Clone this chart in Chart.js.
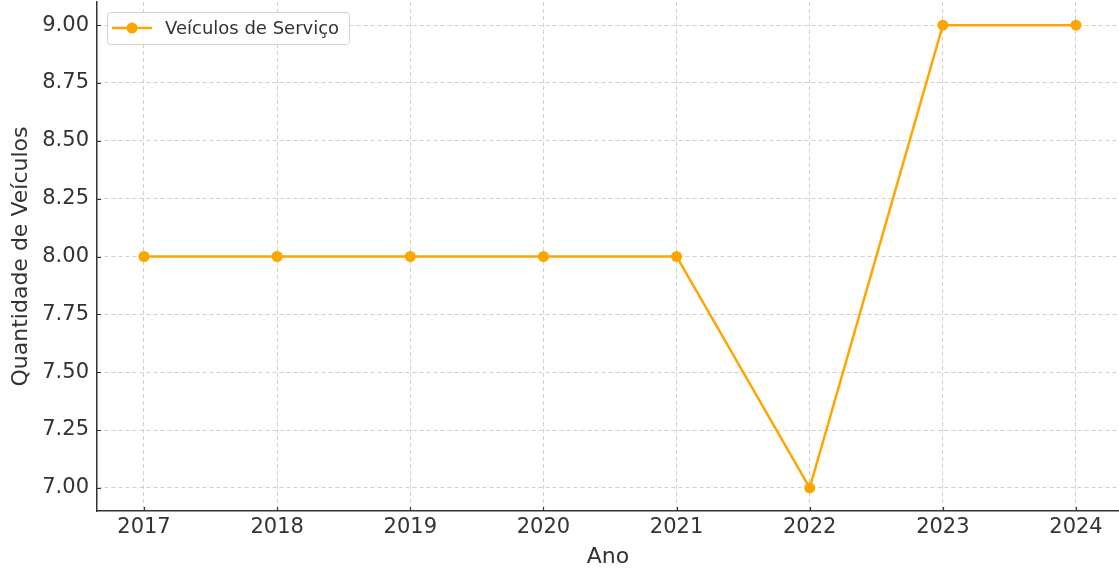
<!DOCTYPE html>
<html>
<head>
<meta charset="utf-8">
<script src="https://cdn.jsdelivr.net/npm/chart.js@4.4.1/dist/chart.umd.min.js"></script>
<style>
  html, body { margin: 0; padding: 0; background: #fff; }
  #wrap { width: 1119px; height: 571px; }
</style>
</head>
<body>
<div id="wrap"><canvas id="chart" width="1119" height="571"></canvas></div>
<script>
// Data
const years = [2017, 2018, 2019, 2020, 2021, 2022, 2023, 2024];
const vehicles = [8, 8, 8, 8, 8, 7, 9, 9];
const yTicks = [7.0, 7.25, 7.5, 7.75, 8.0, 8.25, 8.5, 8.75, 9.0];
const seriesLabel = 'Veículos de Serviço';

const lineColor = '#FFA500';
const textColor = '#333333';
const gridColor = '#cfcfcf';
const fontFamily = '"DejaVu Sans", sans-serif';

// Inward tick marks + matplotlib-like legend box
const extrasPlugin = {
  id: 'extras',
  afterDraw(chart) {
    const ctx = chart.ctx;
    const area = chart.chartArea;
    const x = chart.scales.x;
    const y = chart.scales.y;

    ctx.save();
    ctx.strokeStyle = textColor;
    ctx.lineWidth = 1.2;
    ctx.beginPath();
    years.forEach((v) => {
      const px = Math.round(x.getPixelForValue(v)) + 0.5;
      ctx.moveTo(px, area.bottom);
      ctx.lineTo(px, area.bottom - 4);
    });
    yTicks.forEach((v) => {
      const py = Math.round(y.getPixelForValue(v)) + 0.5;
      ctx.moveTo(area.left, py);
      ctx.lineTo(area.left + 4, py);
    });
    ctx.stroke();

    // legend
    const bx = 107, by = 12, bw = 242, bh = 32, r = 3;
    ctx.fillStyle = 'rgba(255,255,255,0.8)';
    ctx.strokeStyle = '#d0d0d0';
    ctx.lineWidth = 1;
    ctx.beginPath();
    ctx.roundRect(bx + 0.5, by + 0.5, bw, bh, r);
    ctx.fill();
    ctx.stroke();

    const ly = by + bh / 2;
    ctx.strokeStyle = lineColor;
    ctx.lineWidth = 2.5;
    ctx.beginPath();
    ctx.moveTo(112, ly);
    ctx.lineTo(152, ly);
    ctx.stroke();
    ctx.fillStyle = lineColor;
    ctx.beginPath();
    ctx.arc(132, ly, 5.5, 0, Math.PI * 2);
    ctx.fill();

    ctx.fillStyle = textColor;
    ctx.font = '18px ' + fontFamily;
    ctx.textBaseline = 'middle';
    ctx.textAlign = 'left';
    ctx.fillText(seriesLabel, 165, ly + 1);
    ctx.restore();
  }
};

const ctx = document.getElementById('chart').getContext('2d');
new Chart(ctx, {
  type: 'line',
  data: {
    datasets: [
      {
        label: seriesLabel,
        data: years.map((yr, i) => ({ x: yr, y: vehicles[i] })),
        borderColor: lineColor,
        backgroundColor: lineColor,
        borderWidth: 2.5,
        pointRadius: 5.5,
        pointBorderWidth: 0,
        pointBackgroundColor: lineColor,
        tension: 0,
      },
    ],
  },
  options: {
    responsive: false,
    animation: false,
    layout: { padding: { top: 2, left: 0, right: 0, bottom: 0 }, autoPadding: false },
    plugins: {
      legend: { display: false },
      tooltip: { enabled: false },
    },
    scales: {
      x: {
        type: 'linear',
        min: 2016.647,
        max: 2024.323,
        afterBuildTicks(scale) {
          scale.ticks = years.map((v) => ({ value: v }));
        },
        afterFit(scale) {
          scale.height = 60;
          scale.paddingLeft = 0;
          scale.paddingRight = 0;
        },
        grid: { color: gridColor, lineWidth: 1, drawTicks: false },
        border: { display: true, color: textColor, width: 1.5, dash: [4, 3] },
        ticks: {
          color: textColor,
          padding: 4,
          font: { family: fontFamily, size: 21 },
          callback: (v) => String(v),
        },
        title: {
          display: true,
          text: 'Ano',
          color: textColor,
          font: { family: fontFamily, size: 22 },
          padding: { top: 0, bottom: 1 },
        },
      },
      y: {
        min: 6.9,
        max: 9.1,
        afterBuildTicks(scale) {
          scale.ticks = yTicks.map((v) => ({ value: v }));
        },
        afterFit(scale) {
          scale.width = 97;
          scale.paddingTop = 0;
          scale.paddingBottom = 0;
        },
        grid: { color: gridColor, lineWidth: 1, drawTicks: false },
        border: { display: true, color: textColor, width: 1.5, dash: [4, 3] },
        ticks: {
          color: textColor,
          padding: 8,
          font: { family: fontFamily, size: 21 },
          callback: (v) => v.toFixed(2),
        },
        title: {
          display: true,
          text: 'Quantidade de Veículos',
          color: textColor,
          font: { family: fontFamily, size: 22 },
          padding: { top: 8, bottom: 0 },
        },
      },
    },
  },
  plugins: [extrasPlugin],
});
</script>
</body>
</html>
